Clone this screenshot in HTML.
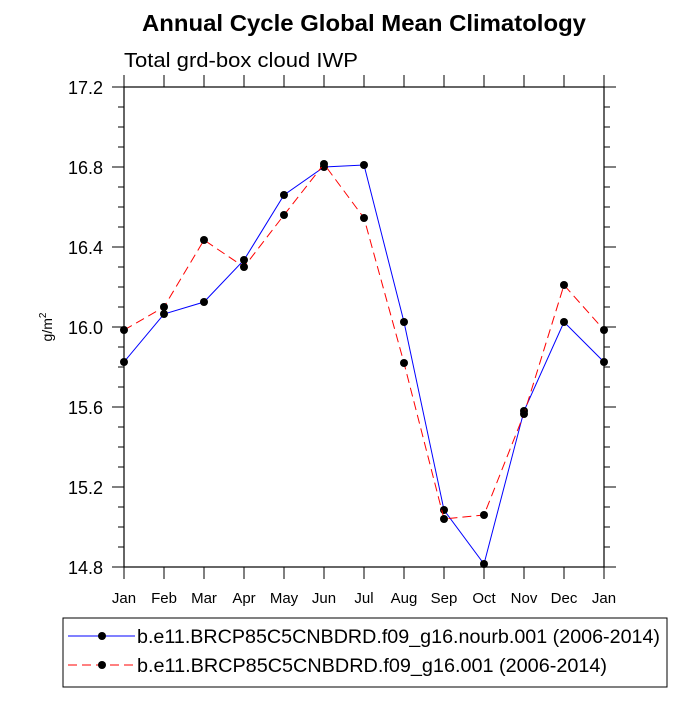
<!DOCTYPE html>
<html><head><meta charset="utf-8"><style>
body{margin:0;background:#fff;}
svg{font-family:"Liberation Sans",Helvetica,sans-serif;}
</style></head><body>
<svg id="chart" width="700" height="700">
<text x="142" y="31" font-size="23" font-weight="bold" textLength="444" lengthAdjust="spacingAndGlyphs">Annual Cycle Global Mean Climatology</text>
<text x="124" y="67" font-size="20" textLength="234" lengthAdjust="spacingAndGlyphs">Total grd-box cloud IWP</text>
<text transform="translate(52,327) rotate(-90)" font-size="14" text-anchor="middle">g/m<tspan dy="-6" font-size="10">2</tspan></text>
<g id="axes"></g><g id="series"></g>
<rect x="63" y="618" width="604" height="69" fill="none" stroke="#000" stroke-width="1"/>
<g>
<line x1="68" y1="636" x2="135" y2="636" stroke="#0000ff" stroke-width="1"/>
<circle cx="102" cy="636" r="4" fill="#000"/>
<text x="137" y="643" font-size="19" textLength="523" lengthAdjust="spacingAndGlyphs">b.e11.BRCP85C5CNBDRD.f09_g16.nourb.001 (2006-2014)</text>
</g>
<g>
<line x1="68" y1="665" x2="135" y2="665" stroke="#ff0000" stroke-width="1" stroke-dasharray="9,5"/>
<circle cx="102" cy="665" r="4" fill="#000"/>
<text x="137" y="672" font-size="19" textLength="470" lengthAdjust="spacingAndGlyphs">b.e11.BRCP85C5CNBDRD.f09_g16.001 (2006-2014)</text>
</g>
</svg>
<script>
const months=["Jan","Feb","Mar","Apr","May","Jun","Jul","Aug","Sep","Oct","Nov","Dec","Jan"];
const yTicks=[14.8,15.2,15.6,16.0,16.4,16.8,17.2];
const nourbValues=[15.825,16.065,16.125,16.335,16.66,16.80,16.81,16.025,15.085,14.815,15.58,16.025,15.825];
const baseValues=[15.985,16.10,16.435,16.30,16.56,16.815,16.545,15.82,15.04,15.06,15.565,16.21,15.985];
const X0=124,X1=604,Y0=87,Y1=567,YMIN=14.8,YMAX=17.2;
const ns="http://www.w3.org/2000/svg";
function xs(i){return X0+(X1-X0)*i/(months.length-1);}
function ys(v){return Y1-(v-YMIN)/(YMAX-YMIN)*(Y1-Y0);}
function mk(t,a,p){const e=document.createElementNS(ns,t);for(const k in a)e.setAttribute(k,a[k]);p.appendChild(e);return e;}
const ax=document.getElementById('axes');
const frame=mk('rect',{x:X0,y:Y0,width:X1-X0,height:Y1-Y0,fill:'none',stroke:'#000','stroke-width':1.2},ax);


months.forEach((m,i)=>{const x=xs(i);
mk('line',{x1:x,y1:Y1,x2:x,y2:Y1+12,stroke:'#000'},ax);
mk('line',{x1:x,y1:Y0,x2:x,y2:Y0-12,stroke:'#000'},ax);
const t=mk('text',{x:x,y:Y1+36,'font-size':15,'text-anchor':'middle'},ax);t.textContent=m;

});
for(let v=YMIN;v<=YMAX+1e-6;v+=0.1){const y=ys(v);const major=Math.abs(Math.round(v*10)%4)===0;const L=major?12:6;
mk('line',{x1:X0-L,y1:y,x2:X0,y2:y,stroke:'#000'},ax);mk('line',{x1:X1,y1:y,x2:X1+L,y2:y,stroke:'#000'},ax);}
yTicks.forEach(v=>{const t=mk('text',{x:X0-21,y:ys(v)+7,'font-size':18,'text-anchor':'end'},ax);t.textContent=v.toFixed(1);

});
const sg=document.getElementById('series');
function draw(vals,color,dash,name){
const g=mk('g',{},sg);


mk('polyline',{points:vals.map((v,i)=>xs(i)+','+ys(v)).join(' '),fill:'none',stroke:color,'stroke-width':1,'stroke-dasharray':dash},g);
vals.forEach((v,i)=>{const c=mk('circle',{cx:xs(i),cy:ys(v),r:4,fill:'#000'},g);

});}
draw(nourbValues,'#0000ff','none','series-nourb');
draw(baseValues,'#ff0000','9,5','series-base');
</script>
</body></html>
